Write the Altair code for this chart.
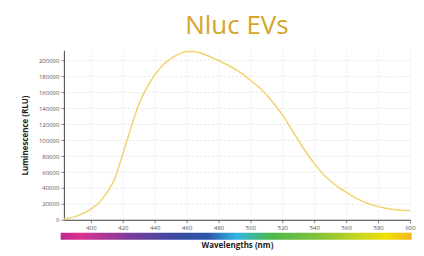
import altair as alt
import pandas as pd

wavelengths = [383, 390, 395, 400, 405, 410, 415, 420, 425, 430, 435, 440, 445, 450,
               455, 460, 465, 470, 475, 480, 485, 490, 495, 500, 505, 510, 515, 520,
               525, 530, 535, 540, 545, 550, 555, 560, 565, 570, 575, 580, 585, 590,
               595, 600]
luminescence = [1000, 4000, 8000, 13500, 21500, 34000, 52000, 83000, 115000, 145000,
                166000, 182000, 194000, 202500, 208000, 211500, 211500, 208500, 204500,
                200000, 195000, 189500, 183000, 175000, 167000, 157000, 145000, 132000,
                116000, 100000, 84500, 70500, 58500, 49000, 41000, 34500, 28500, 23500,
                19500, 16500, 14500, 12800, 12000, 11500]
x_ticks = [400, 420, 440, 460, 480, 500, 520, 540, 560, 580, 600]
y_ticks = [0, 20000, 40000, 60000, 80000, 100000, 120000, 140000, 160000, 180000, 200000]

df = pd.DataFrame({"w": wavelengths, "v": luminescence})

W, H = 347, 170
FONT = "Open Sans"

xscale = alt.Scale(domain=[383, 600], nice=False, zero=False)
yscale = alt.Scale(domain=[0, 213000], nice=False)

xaxis = alt.Axis(values=x_ticks, title="Wavelengths (nm)", titleFont=FONT,
                 titleFontSize=8, titleFontWeight="bold", titleColor="#222",
                 titlePadding=11, labelFont=FONT, labelFontSize=6,
                 labelColor="#555", labelOverlap=False, labelFlush=False,
                 tickSize=3, tickColor="#888", domainColor="#444",
                 gridColor="#ececec", gridDash=[2, 2])

line = alt.Chart(df).mark_line(color="#f2d36e", strokeWidth=1.5, interpolate="monotone").encode(
    x=alt.X("w:Q", scale=xscale, axis=xaxis),
    y=alt.Y("v:Q", scale=yscale,
            axis=alt.Axis(values=y_ticks, format="d", title="Luminescence (RLU)",
                          titleFont=FONT, titleFontSize=8, titleFontWeight="bold",
                          titleColor="#222", titlePadding=9, labelFont=FONT,
                          labelFontSize=6, labelColor="#555", labelOverlap=False,
                          tickSize=3, tickColor="#888", domainColor="#444",
                          gridColor="#e6e6e6", gridDash=[2, 2])),
)

bar_df = pd.DataFrame({"a": [381], "b": [601]})
grad = alt.Gradient(
    gradient="linear", x1=0, x2=1, y1=0, y2=0,
    stops=[
        alt.GradientStop(color="#c0268e", offset=0.0),
        alt.GradientStop(color="#d8338f", offset=0.06),
        alt.GradientStop(color="#7a3c9c", offset=0.2),
        alt.GradientStop(color="#3a4aa2", offset=0.33),
        alt.GradientStop(color="#2c55a8", offset=0.42),
        alt.GradientStop(color="#2fb6e6", offset=0.5),
        alt.GradientStop(color="#4cb84a", offset=0.6),
        alt.GradientStop(color="#7cc13c", offset=0.72),
        alt.GradientStop(color="#c8d420", offset=0.85),
        alt.GradientStop(color="#f2e000", offset=0.93),
        alt.GradientStop(color="#f2b41e", offset=1.0),
    ],
)
bar = alt.Chart(bar_df).mark_rect(fill=grad).encode(
    x=alt.X("a:Q", scale=xscale, axis=xaxis),
    x2="b:Q",
    y=alt.value(H + 13),
    y2=alt.value(H + 20),
)

chart = alt.layer(line, bar).properties(
    width=W, height=H,
    title=alt.TitleParams("Nluc EVs", font=FONT, fontSize=26, fontWeight="normal",
                          color="#d6a52a", anchor="middle", offset=9),
    padding={"left": 13, "top": 5, "right": 0, "bottom": 0},
).configure(background="white", view=alt.ViewConfig(stroke=None))

chart.save("out.html", embed_options={"renderer": "svg", "actions": False})
